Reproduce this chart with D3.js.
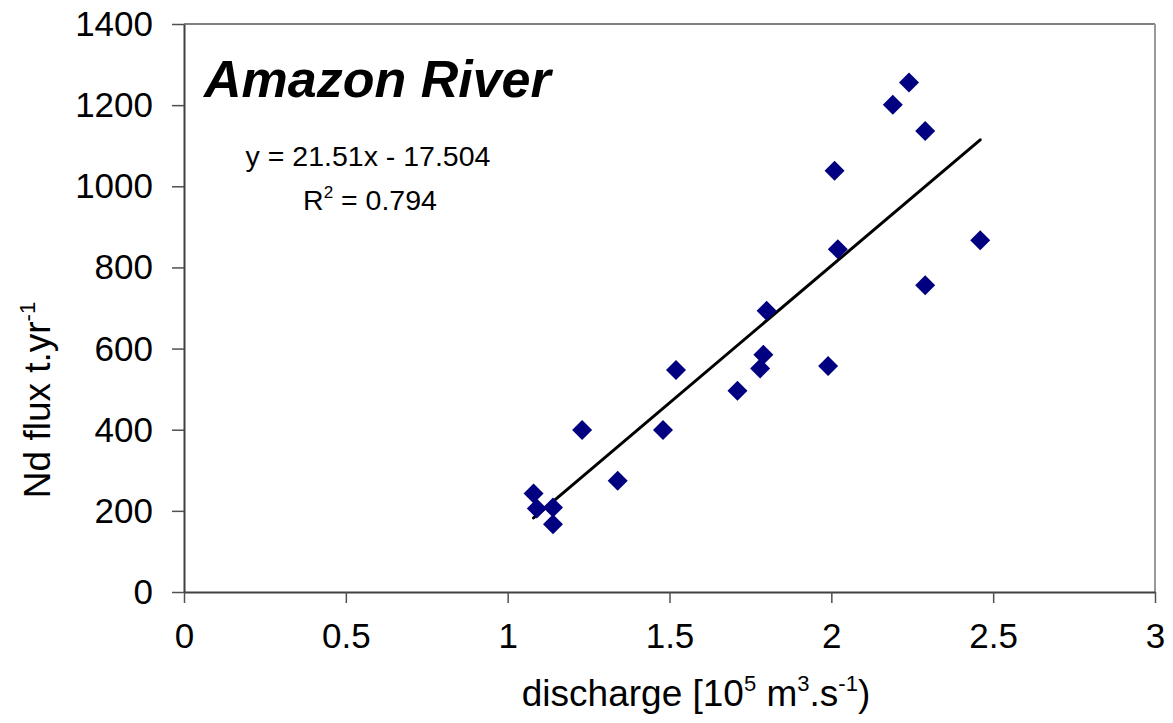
<!DOCTYPE html>
<html>
<head>
<meta charset="utf-8">
<script src="https://cdn.jsdelivr.net/npm/d3@7"></script>
<style>
  html, body { margin: 0; padding: 0; background: #fff; }
  svg { display: block; font-family: "Liberation Sans", Arial, sans-serif; }
</style>
</head>
<body>
<svg id="chart" width="1173" height="723"></svg>
<script>
// ---- data ----
const discharge = [1.08, 1.09, 1.14, 1.14, 1.23, 1.34, 1.48, 1.52, 1.71, 1.78,
                   1.79, 1.80, 1.99, 2.01, 2.02, 2.19, 2.24, 2.29, 2.29, 2.46];
const ndFlux    = [243, 206, 208, 167, 399, 274, 399, 547, 496, 551,
                   585, 693, 557, 1038, 845, 1201, 1256, 1136, 756, 867];
const xTicks = [0, 0.5, 1, 1.5, 2, 2.5, 3];
const yTicks = [0, 200, 400, 600, 800, 1000, 1200, 1400];
const titleText = "Amazon River";
const equationText = "y = 21.51x - 17.504";
const r2Value = "= 0.794";

// ---- layout ----
const W = 1173, H = 723;
const margin = { left: 184, right: 1173 - 1155, top: 24, bottom: 723 - 592 };
const svg = d3.select("#chart");
svg.append("rect").attr("width", W).attr("height", H).attr("fill", "#fff");

const x = d3.scaleLinear().domain([0, 3]).range([margin.left, W - margin.right]);
const y = d3.scaleLinear().domain([0, 1400]).range([H - margin.bottom, margin.top]);

// plot frame: top and right in gray
svg.append("line").attr("x1", x(0)).attr("x2", x(3)).attr("y1", y(1400)).attr("y2", y(1400))
  .attr("stroke", "#808080").attr("stroke-width", 2);
svg.append("line").attr("x1", x(3)).attr("x2", x(3)).attr("y1", y(1400)).attr("y2", y(0))
  .attr("stroke", "#999").attr("stroke-width", 2);

// axes
const xAxis = d3.axisBottom(x).tickValues(xTicks).tickSizeOuter(0).tickSizeInner(11)
  .tickPadding(20).tickFormat(d => String(d));
const yAxis = d3.axisLeft(y).tickValues(yTicks).tickSizeOuter(0).tickSizeInner(12)
  .tickPadding(19).tickFormat(d => String(d));

const gx = svg.append("g").attr("transform", `translate(0,${y(0)})`).call(xAxis);
const gy = svg.append("g").attr("transform", `translate(${x(0)},0)`).call(yAxis);
[gx, gy].forEach(g => {
  g.select(".domain").attr("stroke", "#404040").attr("stroke-width", 2);
  g.selectAll(".tick line").attr("stroke", "#505050").attr("stroke-width", 1.5);
  g.selectAll(".tick text").attr("fill", "#000").attr("font-size", 35)
    .attr("font-family", "Liberation Sans, Arial, sans-serif");
});
gx.selectAll(".tick text").attr("dy", "0.71em");
gy.selectAll(".tick text").attr("dy", "0.33em");

// trend line (least squares through the data)
const n = discharge.length;
const mx = d3.mean(discharge), my = d3.mean(ndFlux);
let sxy = 0, sxx = 0;
for (let i = 0; i < n; i++) { sxy += (discharge[i] - mx) * (ndFlux[i] - my); sxx += (discharge[i] - mx) ** 2; }
const slope = sxy / sxx, icpt = my - slope * mx;
const [xmin, xmax] = d3.extent(discharge);
svg.append("line")
  .attr("x1", x(xmin)).attr("y1", y(slope * xmin + icpt))
  .attr("x2", x(xmax)).attr("y2", y(slope * xmax + icpt))
  .attr("stroke", "#000").attr("stroke-width", 3).attr("stroke-linecap", "round");

// markers (diamonds)
svg.append("g").selectAll("path").data(d3.range(n)).join("path")
  .attr("d", d3.symbol().type(d3.symbolSquare).size(200))
  .attr("transform", i => `translate(${x(discharge[i])},${y(ndFlux[i])}) rotate(45)`)
  .attr("fill", "#000080");

// title
svg.append("text").attr("x", 204).attr("y", 97)
  .attr("font-size", 52).attr("font-weight", "bold").attr("font-style", "italic")
  .attr("fill", "#000").text(titleText);

// equation
svg.append("text").attr("x", 368).attr("y", 166).attr("text-anchor", "middle")
  .attr("font-size", 28.5).attr("fill", "#000").text(equationText);
const r2 = svg.append("text").attr("x", 370).attr("y", 210).attr("text-anchor", "middle")
  .attr("font-size", 28.5).attr("fill", "#000");
r2.append("tspan").text("R");
r2.append("tspan").attr("font-size", 17).attr("dy", -12).text("2");
r2.append("tspan").attr("dy", 12).text(" " + r2Value);

// x-axis title
const xt = svg.append("text").attr("x", 696).attr("y", 706).attr("text-anchor", "middle")
  .attr("font-size", 37).attr("fill", "#000");
xt.append("tspan").text("discharge [10");
xt.append("tspan").attr("font-size", 22).attr("dy", -15).text("5");
xt.append("tspan").attr("dy", 15).text(" m");
xt.append("tspan").attr("font-size", 22).attr("dy", -15).text("3");
xt.append("tspan").attr("dy", 15).text(".s");
xt.append("tspan").attr("font-size", 22).attr("dy", -15).text("-1");
xt.append("tspan").attr("dy", 15).text(")");

// y-axis title
const yt = svg.append("text").attr("transform", "translate(50,400) rotate(-90)")
  .attr("text-anchor", "middle").attr("font-size", 37).attr("fill", "#000");
yt.append("tspan").text("Nd flux t.yr");
yt.append("tspan").attr("font-size", 22).attr("dy", -15).text("-1");
</script>
</body>
</html>
